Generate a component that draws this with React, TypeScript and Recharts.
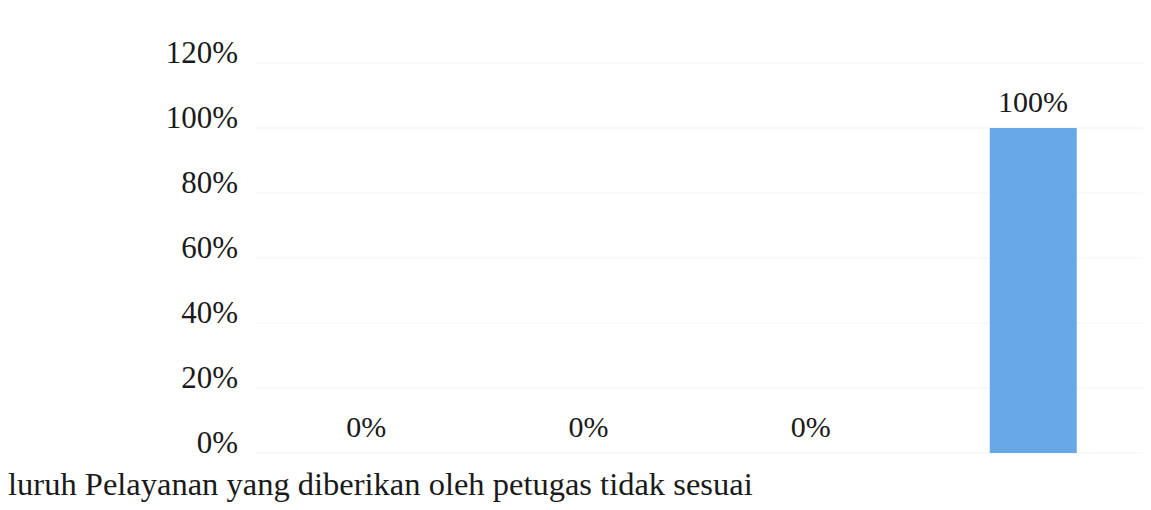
import React from "react";
import { ComposedChart, Bar, Line, XAxis, YAxis, LabelList, CartesianGrid } from "recharts";

const categories = [
  "Seluruh Pelayanan yang diberikan oleh petugas tidak sesuai",
  "",
  "",
  "",
];
const values = [0, 0, 0, 1];
const yTicks = [0, 0.2, 0.4, 0.6, 0.8, 1.0, 1.2];

const data = categories.map((c, i) => ({ name: c, value: values[i], key: i }));

const FONT = "'Liberation Serif', 'Times New Roman', serif";
const pct = (v: number) => `${Math.round(v * 100)}%`;

const YTick = (props: any) => {
  const { x, y, payload } = props;
  return (
    <text x={x} y={y - 11} dy="0.34em" textAnchor="end" fontFamily={FONT} fontSize={31} fill="#1a1a1a">
      {pct(payload.value)}
    </text>
  );
};

const XTick = (props: any) => {
  const { x, y, payload } = props;
  const label = categories[payload.value] ?? "";
  return (
    <text x={x - 2} y={y} dy="0.71em" textAnchor="middle" fontFamily={FONT} fontSize={32.5} fill="#1a1a1a">
      {label}
    </text>
  );
};

export default function App() {
  return (
    <div>
      <style>{`.recharts-surface{overflow:visible}`}</style>
      <ComposedChart
        width={1143}
        height={502}
        data={data}
        margin={{ top: 55, right: 7, bottom: 0, left: 0 }}
        barCategoryGap="30%"
      >
        <CartesianGrid horizontal={true} vertical={false} stroke="#f4f4f4" />
        <XAxis
          dataKey="key"
          type="category"
          axisLine={false}
          tickLine={false}
          tickSize={0}
          tickMargin={19}
          height={57}
          interval={0}
          tick={<XTick />}
        />
        <YAxis
          domain={[0, 1.2]}
          ticks={yTicks}
          axisLine={false}
          tickLine={false}
          tickSize={0}
          tickMargin={17}
          width={247}
          tick={<YTick />}
        />
        <Bar dataKey="value" fill="#68A8E6" barSize={87} isAnimationActive={false} />
        <Line
          dataKey="value"
          stroke="none"
          dot={false}
          activeDot={false}
          isAnimationActive={false}
        >
          <LabelList
            dataKey="value"
            position="top"
            offset={16}
            formatter={(v: any) => pct(Number(v))}
            style={{ fontFamily: FONT, fontSize: 30, fill: "#1a1a1a" }}
          />
        </Line>
      </ComposedChart>
    </div>
  );
}
